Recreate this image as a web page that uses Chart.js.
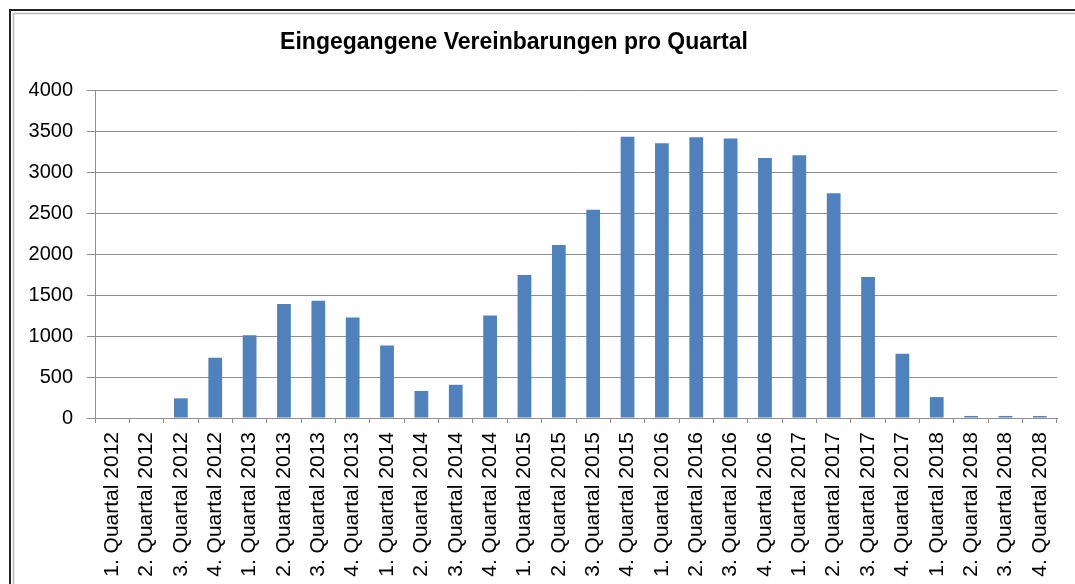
<!DOCTYPE html>
<html>
<head>
<meta charset="utf-8">
<script src="https://cdn.jsdelivr.net/npm/chart.js@4/dist/chart.umd.min.js"></script>
<style>
  html, body { margin: 0; padding: 0; background: #fff; }
  canvas { display: block; }
</style>
</head>
<body>
<canvas id="quartal-chart" width="1075" height="584"></canvas>
<script>
const chartTitle = 'Eingegangene Vereinbarungen pro Quartal';
const quarters = [
  '1. Quartal 2012', '2. Quartal 2012', '3. Quartal 2012', '4. Quartal 2012',
  '1. Quartal 2013', '2. Quartal 2013', '3. Quartal 2013', '4. Quartal 2013',
  '1. Quartal 2014', '2. Quartal 2014', '3. Quartal 2014', '4. Quartal 2014',
  '1. Quartal 2015', '2. Quartal 2015', '3. Quartal 2015', '4. Quartal 2015',
  '1. Quartal 2016', '2. Quartal 2016', '3. Quartal 2016', '4. Quartal 2016',
  '1. Quartal 2017', '2. Quartal 2017', '3. Quartal 2017', '4. Quartal 2017',
  '1. Quartal 2018', '2. Quartal 2018', '3. Quartal 2018', '4. Quartal 2018'
];
const agreements = [
  0, 0, 240, 735,
  1010, 1390, 1430, 1225,
  885, 330, 405, 1250,
  1745, 2110, 2540, 3430,
  3350, 3425, 3410, 3170,
  3205, 2740, 1720, 785,
  255, 25, 25, 25
];
const yMin = 0, yMax = 4000, yStep = 500;

const gridGray = '#8e8e8e';
const fontFam = '"Liberation Sans", Arial, sans-serif';

// frame like the excel chart border + title text
const framePlugin = {
  id: 'frame',
  beforeDraw(chart) {
    const c = chart.ctx;
    c.save();
    c.fillStyle = '#fff';
    c.fillRect(0, 0, chart.width, chart.height);
    c.strokeStyle = '#222';
    c.lineWidth = 2;
    c.beginPath();
    c.moveTo(10, chart.height); c.lineTo(10, 10); c.lineTo(chart.width, 10);
    c.stroke();
    c.strokeStyle = '#b8b8b8';
    c.lineWidth = 1.5;
    c.beginPath();
    c.moveTo(13.5, chart.height); c.lineTo(13.5, 13.5); c.lineTo(chart.width, 13.5);
    c.stroke();
    c.restore();
  },
  afterDraw(chart) {
    const c = chart.ctx;
    c.save();
    c.fillStyle = '#000';
    c.font = 'bold 23px ' + fontFam;
    c.textAlign = 'center';
    c.textBaseline = 'alphabetic';
    c.fillText(chartTitle, 514, 49);
    c.restore();
  }
};

const config = {
  type: 'bar',
  data: {
    labels: quarters,
    datasets: [{
      label: chartTitle,
      data: agreements,
      backgroundColor: '#4f81bd',
      borderWidth: 0,
      barPercentage: 0.4,
      categoryPercentage: 1.0
    }]
  },
  options: {
    responsive: false,
    animation: false,
    layout: { padding: { top: 90, right: 18, left: 0, bottom: 0 } },
    plugins: {
      legend: { display: false },
      tooltip: { enabled: false },
      title: { display: false }
    },
    scales: {
      x: {
        grid: { offset: true, drawOnChartArea: false, tickLength: 5, color: gridGray },
        border: { color: gridGray },
        ticks: {
          autoSkip: false, minRotation: 90, maxRotation: 90,
          padding: 9, color: '#000', font: { family: fontFam, size: 21 }
        },
        afterFit: s => { s.height = 166; }
      },
      y: {
        min: yMin, max: yMax,
        grid: { color: gridGray, tickLength: 8 },
        border: { color: gridGray },
        ticks: {
          stepSize: yStep, padding: 14, color: '#000',
          font: { family: fontFam, size: 20 },
          callback: v => String(v)
        },
        afterFit: s => { s.width = 95; }
      }
    }
  },
  plugins: [framePlugin]
};

new Chart(document.getElementById('quartal-chart'), config);
</script>
</body>
</html>
